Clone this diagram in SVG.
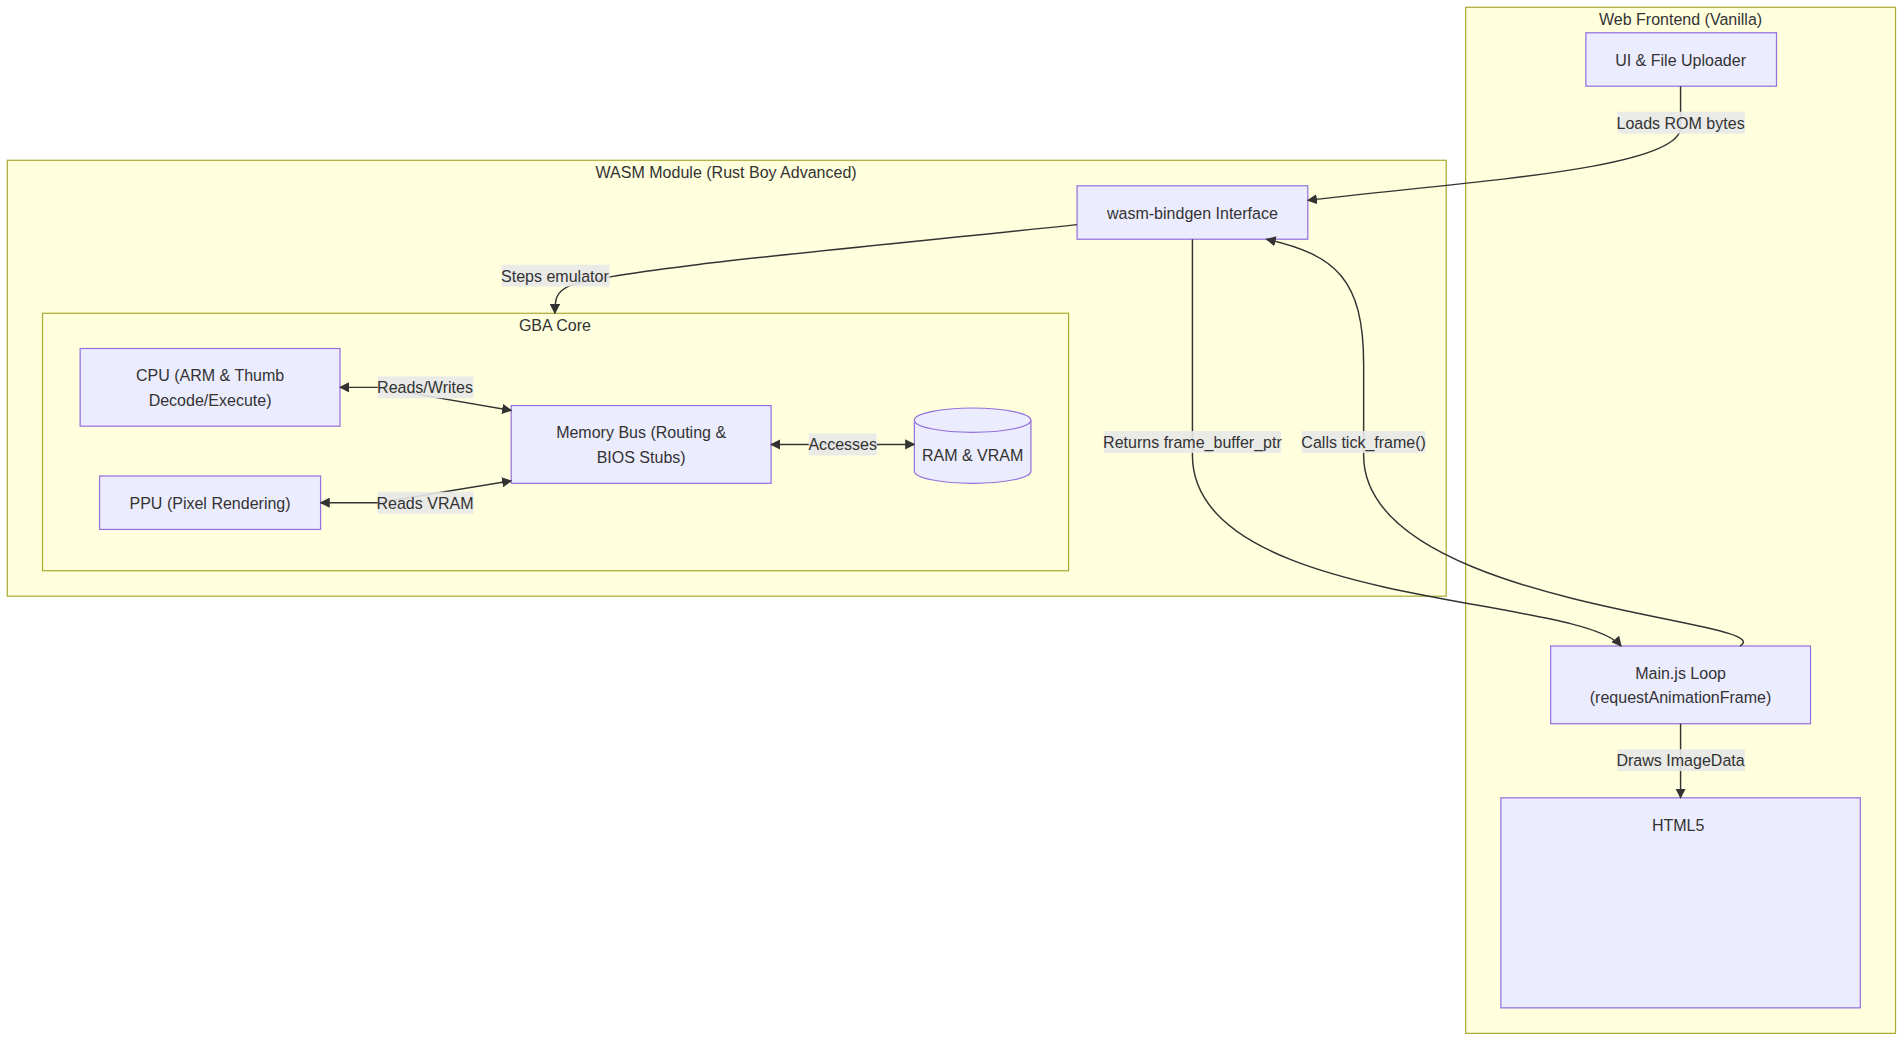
<svg xmlns="http://www.w3.org/2000/svg" width="1904" height="1042" viewBox="0 0 1904 1042">
<defs>
<marker id="ah" viewBox="0 0 10 10" refX="9" refY="5" markerWidth="7" markerHeight="7" orient="auto-start-reverse"><path d="M0,0L10,5L0,10z" fill="#333"/></marker>
<style>
.cl{fill:#ffffde;stroke:#aaaa33;stroke-width:1}
.nd{fill:#ECECFF;stroke:#9370DB;stroke-width:1}
text{font-family:"Liberation Sans",Arial,sans-serif;font-size:13.2px;fill:#333;text-anchor:middle;dominant-baseline:central}
.e{fill:none;stroke:#333;stroke-width:1.2}
.lb{fill:#e8e8e8;fill-opacity:0.9}
</style>
</defs>
<rect width="1904" height="1042" fill="#fff"/>
<g transform="scale(1.21429)">
<g id="web-frontend"><rect class="cl" x="1207" y="6" width="354" height="845"/><text x="1384" y="16">Web Frontend (Vanilla)</text></g>
<g id="wasm-module"><rect class="cl" x="6" y="132" width="1185" height="359"/><text x="598" y="142">WASM Module (Rust Boy Advanced)</text></g>
<g id="gba-core"><rect class="cl" x="35" y="258" width="845" height="212"/><text x="457" y="268">GBA Core</text></g>
<g id="ui"><rect class="nd" x="1306" y="27" width="157" height="44"/><text x="1384" y="49">UI &amp; File Uploader</text></g>
<g id="bindgen"><rect class="nd" x="887" y="153" width="190" height="44"/><text x="982" y="175">wasm-bindgen Interface</text></g>
<g id="cpu"><rect class="nd" x="66" y="287" width="214" height="64"/><text x="173" y="309">CPU (ARM &amp; Thumb</text><text x="173" y="329">Decode/Execute)</text></g>
<g id="ppu"><rect class="nd" x="82" y="392" width="182" height="44"/><text x="173" y="414">PPU (Pixel Rendering)</text></g>
<g id="membus"><rect class="nd" x="421" y="334" width="214" height="64"/><text x="528" y="356">Memory Bus (Routing &amp;</text><text x="528" y="376">BIOS Stubs)</text></g>
<g id="ram"><path class="nd" d="M753,346 A48,10 0 0 1 849,346 L849,388 A48,10 0 0 1 753,388 Z"/><path class="nd" fill="none" d="M753,346 A48,10 0 0 0 849,346"/><text x="801" y="375">RAM &amp; VRAM</text></g>
<g id="mainjs"><rect class="nd" x="1277" y="532" width="214" height="64"/><text x="1384" y="554">Main.js Loop</text><text x="1384" y="574">(requestAnimationFrame)</text></g>
<g id="html5"><rect class="nd" x="1236" y="657" width="296" height="173"/><text x="1382" y="679">HTML5</text></g>
<g id="edges">
<path class="e" marker-end="url(#ah)" d="M1384,71 L1384,105 C1384,140 1200,150 1077,165"/>
<path class="e" marker-end="url(#ah)" d="M887,185 C700,205 520,220 470,235 C457,240 457,248 457,258"/>
<path class="e" marker-start="url(#ah)" marker-end="url(#ah)" d="M280,319 L311,319 L421,338"/>
<path class="e" marker-start="url(#ah)" marker-end="url(#ah)" d="M264,414 L311,414 L421,396"/>
<path class="e" marker-start="url(#ah)" marker-end="url(#ah)" d="M635,366 L753,366"/>
<path class="e" marker-end="url(#ah)" d="M982,197 L982,375 C982,500 1300,490 1335,532"/>
<path class="e" marker-end="url(#ah)" d="M1433,532 C1470,510 1123,500 1123,375 L1123,300 C1123,230 1100,210 1043,197"/>
<path class="e" marker-end="url(#ah)" d="M1384,596 L1384,657"/>
<rect class="lb" x="1332" y="92" width="105" height="18"/><text x="1384" y="101">Loads ROM bytes</text>
<rect class="lb" x="413" y="218" width="89" height="18"/><text x="457" y="227">Steps emulator</text>
<rect class="lb" x="311" y="310" width="79" height="18"/><text x="350" y="319">Reads/Writes</text>
<rect class="lb" x="311" y="405" width="79" height="18"/><text x="350" y="414">Reads VRAM</text>
<rect class="lb" x="666" y="357" width="56" height="18"/><text x="694" y="366">Accesses</text>
<rect class="lb" x="909" y="355" width="146" height="18"/><text x="982" y="364">Returns frame_buffer_ptr</text>
<rect class="lb" x="1072" y="355" width="102" height="18"/><text x="1123" y="364">Calls tick_frame()</text>
<rect class="lb" x="1332" y="617" width="105" height="18"/><text x="1384" y="626">Draws ImageData</text>
</g>
</g>
</svg>
